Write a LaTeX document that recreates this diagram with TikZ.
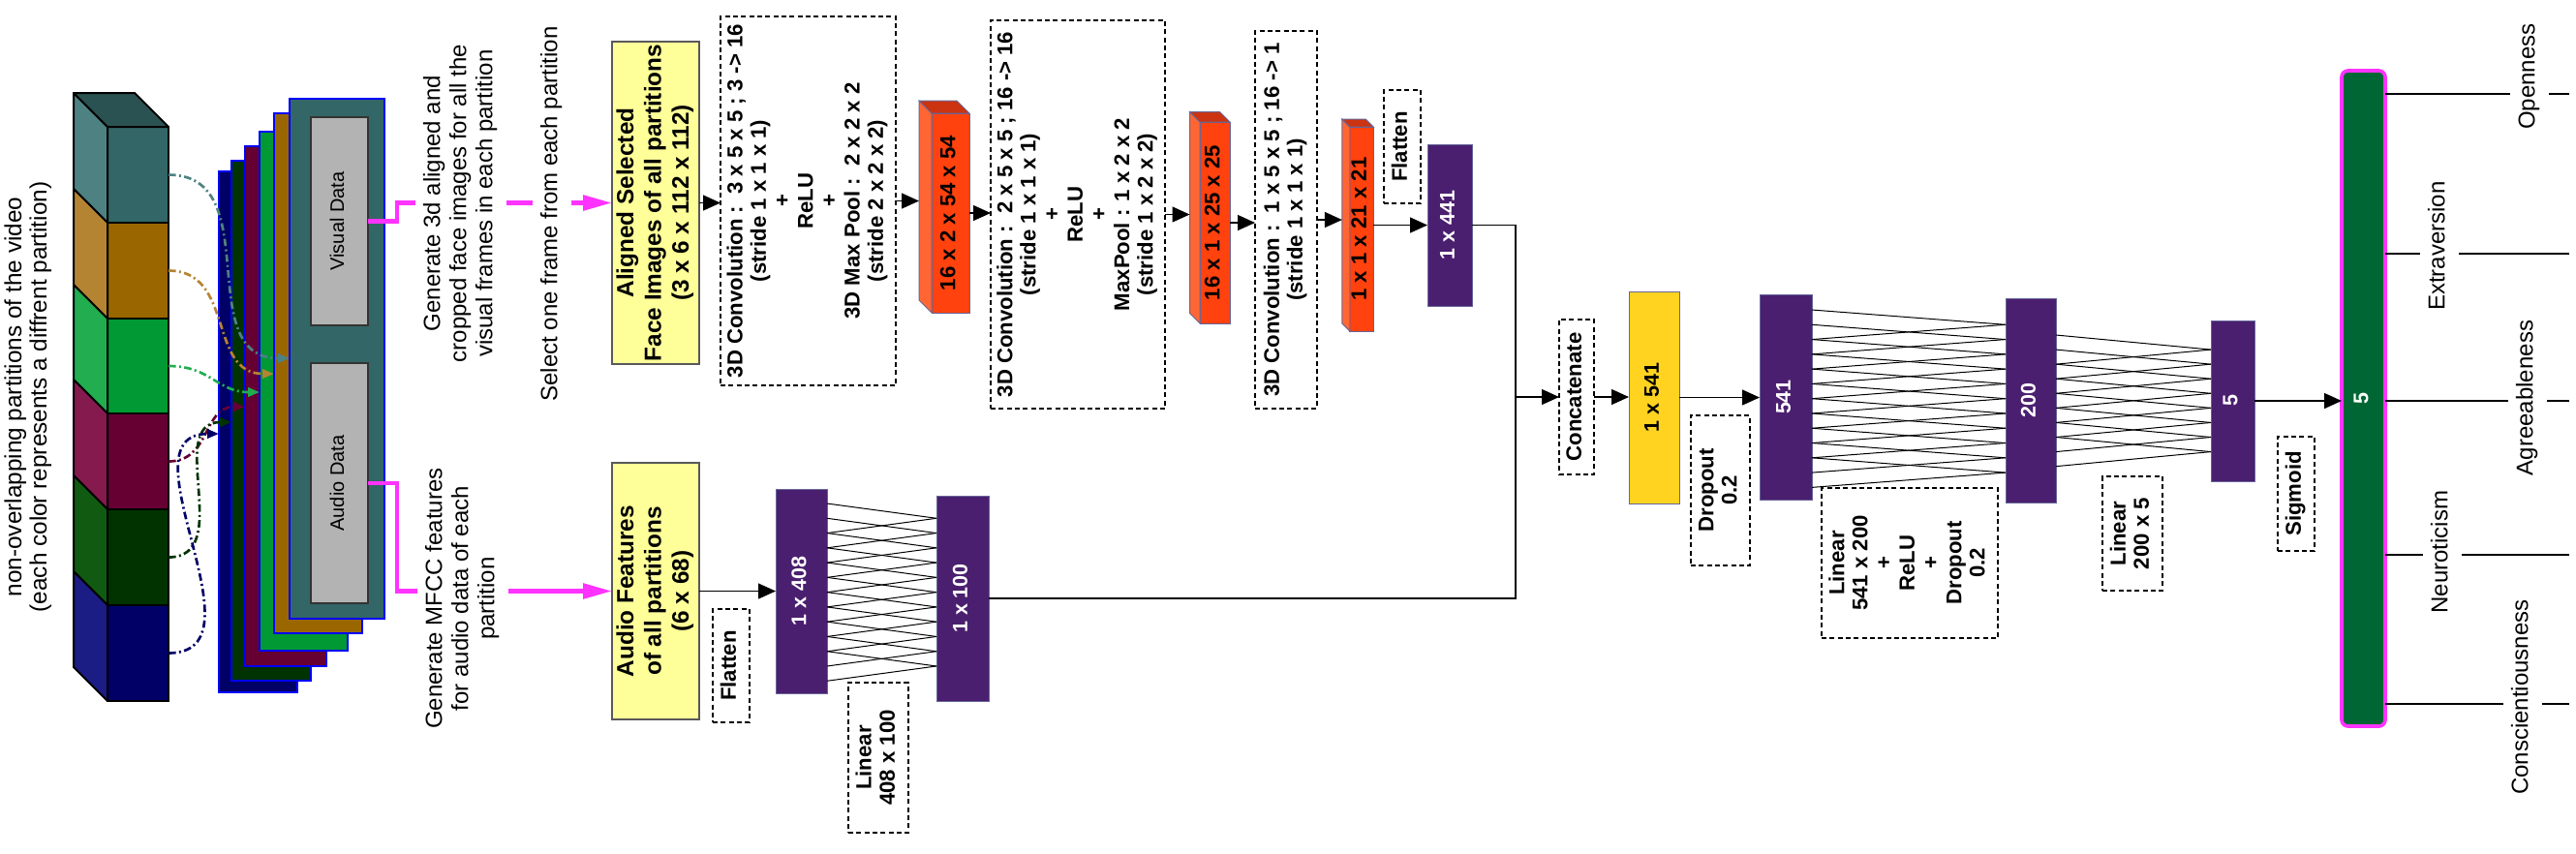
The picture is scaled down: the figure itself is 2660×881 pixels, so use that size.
\documentclass[tikz,border=0pt]{standalone}
\usepackage{fontspec}
\setmainfont{Liberation Sans}
\usepackage{graphicx}
\usetikzlibrary{arrows.meta,calc}

\definecolor{cteal}{HTML}{336666}
\definecolor{cteals}{HTML}{4E8282}
\definecolor{ctealt}{HTML}{2B5252}
\definecolor{corange}{HTML}{996600}
\definecolor{coranges}{HTML}{B58433}
\definecolor{cgreen}{HTML}{009933}
\definecolor{cgreens}{HTML}{21AD50}
\definecolor{cmaroon}{HTML}{660033}
\definecolor{cmaroons}{HTML}{851A4E}
\definecolor{cdkgreen}{HTML}{003300}
\definecolor{cdkgreens}{HTML}{115A11}
\definecolor{cnavy}{HTML}{000066}
\definecolor{cnavys}{HTML}{1C1C85}
\definecolor{cblue}{HTML}{0000FF}
\definecolor{cgray}{HTML}{B3B3B3}
\definecolor{cmag}{HTML}{FF33FF}
\definecolor{clyellow}{HTML}{FFFF99}
\definecolor{cgold}{HTML}{FFD320}
\definecolor{cpurple}{HTML}{4B1F6F}
\definecolor{cred}{HTML}{FF420E}
\definecolor{creds}{HTML}{FF6633}
\definecolor{credt}{HTML}{CC3311}
\definecolor{cbar}{HTML}{006633}
\definecolor{cedge}{HTML}{666699}

\newcommand\fsA{\fontsize{7.2pt}{8.1pt}\selectfont}
\newcommand\fsB{\fontsize{6.65pt}{7.26pt}\selectfont\bfseries}
\newcommand\fsY{\fontsize{7.3pt}{8.55pt}\selectfont\bfseries}
\newcommand\fsP{\fontsize{6.45pt}{7.2pt}\selectfont\bfseries}
\newcommand\fsG{\fontsize{6pt}{7pt}\selectfont}
\newcommand\fsL{\fontsize{7.3pt}{7.8pt}\selectfont}
\newcommand\rt[1]{\rotatebox{90}{\begin{tabular}{@{}c@{}}#1\end{tabular}}}

\newcommand\boxat[7]{\node[#2, minimum width={(#4-#3)*0.3pt}, minimum height={(#6-#5)*0.3pt}] (#1) at ({(#3+#4)/2},{(#5+#6)/2}) {#7};}

\newcommand\cubeseg[5]{%
 \boxat{#1}{cubeface, fill=#2}{111}{174}{#4}{#5}{}%
 \filldraw[cubeedge, fill=#3] (#1.north west) -- ++(-35,-35) -- ($(#1.south west)+(-35,-35)$) -- (#1.south west) -- cycle;}

\newcommand\redblock[7]{%
 \boxat{#1}{rface}{#2}{#3}{#4}{#5}{\rt{#7}}%
 \filldraw[rside] (#1.north west) -- ++(-#6,-#6) -- ($(#1.south west)+(-#6,-#6)$) -- (#1.south west) -- cycle;
 \filldraw[rtop] (#1.north west) -- ++(-#6,-#6) -- ($(#1.north east)+(-#6,-#6)$) -- (#1.north east) -- cycle;
 \coordinate (#1s) at ($(#1.west)+(-#6,0)$);}

\tikzset{
 every node/.style={inner sep=0pt, outer sep=0pt},
 cubeface/.style={draw=black, line width=0.6pt},
 cubeedge/.style={draw=black, line width=0.6pt, line join=round},
 dbox/.style={draw=black, line width=0.55pt, dash pattern=on 1.5pt off 1pt, font=\fsB},
 ybox/.style={draw=black!65, line width=0.5pt, fill=clyellow, font=\fsY},
 gold/.style={draw=cedge, line width=0.3pt, fill=cgold, font=\fsP},
 pbox/.style={fill=cpurple, draw=cedge, line width=0.3pt, text=white, font=\fsP},
 rface/.style={fill=cred, draw=cedge, line width=0.3pt, font=\fsB},
 rside/.style={fill=creds, draw=cedge, line width=0.3pt},
 rtop/.style={fill=credt, draw=cedge, line width=0.3pt},
 frame/.style={draw=cblue, line width=0.6pt},
 gbox/.style={fill=cgray, draw=black!80, line width=0.5pt, font=\fsG},
 barbox/.style={fill=cbar, draw=cmag, line width=1.1pt, rounded corners=2pt, text=white, font=\fsP},
 arr/.style={draw=black, line width=0.4pt, -{Triangle[length=5.4pt,width=4.8pt]}},
 ln/.style={draw=black, line width=0.4pt},
 fc/.style={draw=black, line width=0.3pt},
 mag/.style={draw=cmag, line width=1.4pt},
 magarr/.style={mag, -{Triangle[length=9pt,width=4.6pt]}},
 dd/.style={line width=0.8pt, dash pattern=on 2.3pt off 1pt on 0.6pt off 1pt, -{Triangle[length=3.6pt,width=2.8pt]}},
 lab/.style={fill=white, font=\fsA, inner xsep=2pt},
 outln/.style={draw=black, line width=0.6pt},
}

\begin{document}
\begin{tikzpicture}[x=0.3pt,y=-0.3pt]
\useasboundingbox (0,0) rectangle (2660,881);

% title
\node[font=\fsL] (title) at (30,410) {\rt{non-overlapping partitions of the video\\(each color represents a diffrent partition)}};

% cube of partitions
\cubeseg{sA}{cteal}{cteals}{131}{230}
\cubeseg{sB}{corange}{coranges}{230}{329}
\cubeseg{sC}{cgreen}{cgreens}{329}{427}
\cubeseg{sD}{cmaroon}{cmaroons}{427}{526}
\cubeseg{sE}{cdkgreen}{cdkgreens}{526}{625}
\cubeseg{sF}{cnavy}{cnavys}{625}{724}
\filldraw[cubeedge, fill=ctealt] (sA.north west) -- ++(-35,-35) -- ($(sA.north east)+(-35,-35)$) -- (sA.north east) -- cycle;

% stack of frames
\boxat{fnavy}{frame, fill=cnavy}{226}{307}{177}{715}{}
\boxat{fdkgreen}{frame, fill=cdkgreen}{239}{321}{166}{703}{}
\boxat{fmaroon}{frame, fill=cmaroon}{253}{337}{151}{688}{}
\boxat{fgreen}{frame, fill=cgreen}{268}{359}{136}{672}{}
\boxat{forange}{frame, fill=corange}{283}{374}{117}{654}{}
\boxat{fteal}{frame, fill=cteal}{299}{397}{102}{639}{}
\boxat{vis}{gbox}{321}{380}{121}{336}{\rt{Visual Data}}
\boxat{aud}{gbox}{321}{380}{375}{623}{\rt{Audio Data}}

% partition arrows
\draw[dd, cteals] (sA.east) to[out=0,in=180,looseness=1.15] (fteal.west |- 0,370);
\draw[dd, coranges] (sB.east) to[out=0,in=180,looseness=1.15] (forange.west |- 0,386);
\draw[dd, cgreens] (sC.east) to[out=0,in=180,looseness=1.15] (fgreen.west |- 0,405);
\draw[dd, cmaroon] (sD.east) to[out=0,in=180,looseness=1.15] (fmaroon.west |- 0,420);
\draw[dd, cdkgreen] (sE.east) to[out=0,in=180,looseness=1.15] (fdkgreen.west |- 0,436);
\draw[dd, cnavy] (sF.east) to[out=0,in=180,looseness=1.15] (fnavy.west |- 0,448);

% input boxes
\boxat{aligned}{ybox}{632}{722}{43}{376}{\rt{Aligned Selected\\Face Images of all partitions\\(3 x 6 x 112 x 112)}}
\boxat{audioF}{ybox}{632}{722}{478}{743}{\rt{Audio Features\\of all partitions\\(6 x 68)}}

% magenta connectors
\draw[magarr] (vis.east) -- ++(30,0) |- (aligned.west);
\draw[magarr] (aud.east) -- ++(30,0) |- (audioF.west);
\node[lab] (gen) at (476,210) {\rt{Generate 3d aligned and\\cropped face images for all the\\visual frames in each partition}};
\node[lab] (sel) at (570,221) {\rt{Select one frame from each partition}};
\node[lab] (mfcc) at (478,618) {\rt{Generate MFCC features\\for audio data of each\\partition}};

% visual branch
\boxat{conv1}{dbox}{744}{925}{17}{398}{\rt{3D Convolution :\ \ 3 x 5 x 5 ; 3 -> 16\\(stride 1 x 1 x 1)\\+\\ReLU\\+\\3D Max Pool :\ \ 2 x 2 x 2\\(stride 2 x 2 x 2)}}
\redblock{r1}{962}{1001}{117}{323}{13}{16 x 2 x 54 x 54}
\boxat{conv2}{dbox}{1023}{1203}{21}{422}{\rt{3D Convolution :\ \ 2 x 5 x 5 ; 16 -> 16\\(stride 1 x 1 x 1)\\+\\ReLU\\+\\MaxPool : 1 x 2 x 2\\(stride 1 x 2 x 2)}}
\redblock{r2}{1239}{1270}{126}{334}{10.5}{16 x 1 x 25 x 25}
\boxat{conv3}{dbox}{1296}{1360}{32}{422}{\rt{3D Convolution :\ \ 1 x 5 x 5 ; 16 -> 1\\(stride 1 x 1 x 1)}}
\redblock{r3}{1395}{1417}{131}{342}{8}{1 x 1 x 21 x 21}
\boxat{flatV}{dbox}{1429}{1467}{93}{210}{\rt{Flatten}}
\boxat{p441}{pbox}{1474}{1520}{149}{316}{\rt{1 x 441}}

\draw[arr] (aligned.east) -- (conv1.west |- aligned.east);
\draw[arr] (conv1.east) -- (conv1.east -| r1s);
\draw[arr] (r1.east) -- (r1.east -| conv2.west);
\draw[arr] (conv2.east) -- (conv2.east -| r2s);
\draw[arr] (r2.east) -- (r2.east -| conv3.west);
\draw[arr] (conv3.east) -- (conv3.east -| r3s);
\draw[arr] (r3.east |- p441.west) -- (p441.west);

% audio branch
\boxat{flatA}{dbox}{736}{774}{629}{746}{\rt{Flatten}}
\boxat{p408}{pbox}{801}{854}{505}{716}{\rt{1 x 408}}
\boxat{p100}{pbox}{967}{1021}{512}{724}{\rt{1 x 100}}
\boxat{lin408}{dbox}{876}{938}{705}{860}{\rt{Linear\\408 x 100}}
\draw[arr] (audioF.east) -- (p408.west |- audioF.east);
\foreach \k in {0,...,10}{
  \pgfmathsetmacro\ya{520+15.27*\k}\pgfmathsetmacro\yb{520+15.27*(\k+1)}
  \draw[fc] (p408.east |- 0,\ya) -- (p100.west |- 0,\yb);}
\foreach \k in {2,...,12}{
  \pgfmathsetmacro\ya{520+15.27*\k}\pgfmathsetmacro\yb{520+15.27*(\k-1)}
  \draw[fc] (p408.east |- 0,\ya) -- (p100.west |- 0,\yb);}

% fusion
\coordinate (jn) at (1565,410);
\boxat{concat}{dbox}{1610}{1646}{330}{490}{\rt{Concatenate}}
\boxat{y541}{gold}{1682}{1734}{301}{520}{\rt{1 x 541}}
\boxat{drop}{dbox}{1746}{1807}{429}{584}{\rt{Dropout\\0.2}}
\boxat{p541}{pbox}{1817}{1871}{304}{516}{\rt{541}}
\boxat{p200}{pbox}{2071}{2123}{308}{519}{\rt{200}}
\boxat{p5}{pbox}{2283}{2328}{331}{497}{\rt{5}}
\boxat{lin541}{dbox}{1881}{2063}{504}{659}{\rt{Linear\\541 x 200\\+\\ReLU\\+\\Dropout\\0.2}}
\boxat{lin200}{dbox}{2171}{2233}{492}{610}{\rt{Linear\\200 x 5}}
\boxat{sig}{dbox}{2352}{2390}{451}{569}{\rt{Sigmoid}}
\boxat{bar}{barbox}{2418}{2463}{73}{750}{\rt{5}}

\draw[ln] (p441.east) -| (jn);
\draw[ln] (p100.east) -| (jn);
\draw[arr] (jn) -- (concat.west |- jn);
\draw[arr] (concat.east) -- (y541.west |- concat.east);
\draw[arr] (y541.east) -- (p541.west |- y541.east);
\draw[arr] (p5.east) -- (bar.west |- p5.east);

\foreach \k in {0,...,10}{
  \pgfmathsetmacro\ya{320+15.28*\k}\pgfmathsetmacro\yb{320+15.28*(\k+1)}
  \draw[fc] (p541.east |- 0,\ya) -- (p200.west |- 0,\yb);}
\foreach \k in {2,...,12}{
  \pgfmathsetmacro\ya{320+15.28*\k}\pgfmathsetmacro\yb{320+15.28*(\k-1)}
  \draw[fc] (p541.east |- 0,\ya) -- (p200.west |- 0,\yb);}
\foreach \k in {0,...,7}{
  \pgfmathsetmacro\ya{346+15.07*\k}\pgfmathsetmacro\yb{346+15.07*(\k+1)}
  \draw[fc] (p200.east |- 0,\ya) -- (p5.west |- 0,\yb);}
\foreach \k in {2,...,9}{
  \pgfmathsetmacro\ya{346+15.07*\k}\pgfmathsetmacro\yb{346+15.07*(\k-1)}
  \draw[fc] (p200.east |- 0,\ya) -- (p5.west |- 0,\yb);}

% outputs
\draw[outln] (bar.east |- 0,97) -- ++(190,0);
\draw[outln] (bar.east |- 0,262) -- ++(190,0);
\draw[outln] (bar.east |- 0,414) -- ++(190,0);
\draw[outln] (bar.east |- 0,573) -- ++(190,0);
\draw[outln] (bar.east |- 0,727) -- ++(190,0);
\node[lab] (lo) at (2612,79) {\rt{Openness}};
\node[lab] (le) at (2519,254) {\rt{Extraversion}};
\node[lab] (la) at (2610,411) {\rt{Agreeableness}};
\node[lab] (lne) at (2522,570) {\rt{Neuroticism}};
\node[lab] (lc) at (2605,720) {\rt{Conscientiousness}};
\end{tikzpicture}
\end{document}
